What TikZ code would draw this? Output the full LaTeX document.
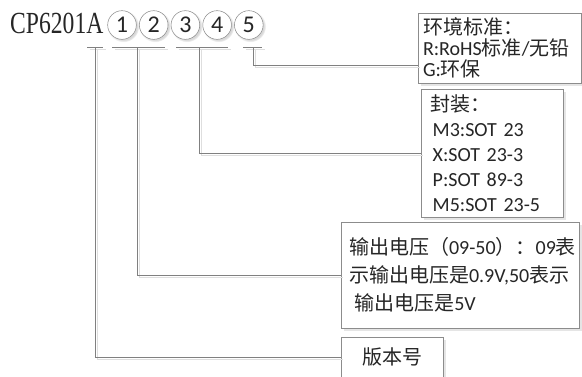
\documentclass[tikz,border=0pt]{standalone}
\usepackage{fontspec}
\setmainfont{Carlito}
\newfontfamily\zh{Noto Sans CJK SC}
\newfontfamily\titlefont{Liberation Serif}
\usetikzlibrary{calc,shadows}

\begin{document}
\begin{tikzpicture}[x=0.75pt,y=-0.75pt,
    leader/.style={draw=black!50,line width=0.75pt,
        preaction={draw=black!13,line width=0.75pt,transform canvas={shift={(2pt,-2pt)}}}},
    digit/.style={circle,draw=black!45,fill=white,minimum size=21.5pt,inner sep=0pt,
        text=black!85,font=\fontsize{18}{18}\selectfont,
        circular drop shadow={shadow xshift=1pt,shadow yshift=-1pt,fill=black!30,opacity=0.5}},
    infobox/.style={draw=black!45,fill=white,align=left,inner ysep=0pt,text=black!85,
        font=\fontsize{15}{#1}\selectfont,
        drop shadow={shadow xshift=2pt,shadow yshift=-2pt,fill=black!10,opacity=1}}]

    \useasboundingbox (0,0) rectangle (582,376);

    \node[anchor=west,inner sep=0pt,xscale=0.77,text=black!85,font=\titlefont\fontsize{23}{23}\selectfont] (title) at (10,23) {CP6201A};

    \node[digit] (d1) at (122,25) {1};
    \node[digit] (d2) at (153.7,25) {2};
    \node[digit] (d3) at (185.4,25) {3};
    \node[digit] (d4) at (217.1,25) {4};
    \node[digit] (d5) at (248.8,25) {5};

    \node[infobox=15.75pt,minimum width=122.25pt,minimum height=52.5pt,inner xsep=3.75pt,text width=114.75pt] (env) at (499.5,48)
        {{\zh 环境标准：}\\R:RoHS{\zh 标准}/{\zh 无铅}\\G:{\zh 环保}};
    \node[infobox=18.75pt,minimum width=106.5pt,minimum height=96pt,inner xsep=6.75pt,text width=93pt] (pkg) at (492,153)
        {{\zh 封装：}\\\hspace*{2pt}M3:SOT 23\\\hspace*{2pt}X:SOT 23-3\\\hspace*{2pt}P:SOT 89-3\\\hspace*{2pt}M5:SOT 23-5};
    \node[infobox=21pt,minimum width=178.5pt,minimum height=79.5pt,inner xsep=6pt,text width=166.5pt] (vout) at (460,275)
        {\mbox{{\zh 输出电压（}09-50{\zh ）：}09{\zh 表}}\\\mbox{{\zh 示输出电压是}0.9V,50{\zh 表示}}\\\hspace*{4pt}{\zh 输出电压是}5V};
    \node[infobox=16pt,align=center,minimum width=76.5pt,minimum height=30pt,inner xsep=6pt,text width=64.5pt] (ver) at (392,357)
        {{\zh 版本号}};

    \coordinate (u1) at (95,47);
    \coordinate (u2) at (137,47);
    \coordinate (u3) at (199,47);
    \coordinate (u4) at (253,47);

    \draw[leader] (87,47) -- (103,47);
    \draw[leader] (112,47) -- (165,47);
    \draw[leader] (176,47) -- (228,47);
    \draw[leader] (243,47) -- (262,47);

    \draw[leader] (u1) |- (ver.west);
    \draw[leader] (u2) |- (vout.west);
    \draw[leader] (u3) |- (pkg.west);
    \draw[leader] (u4) |- ($(env.south west)+(0,-18)$);

\end{tikzpicture}
\end{document}
